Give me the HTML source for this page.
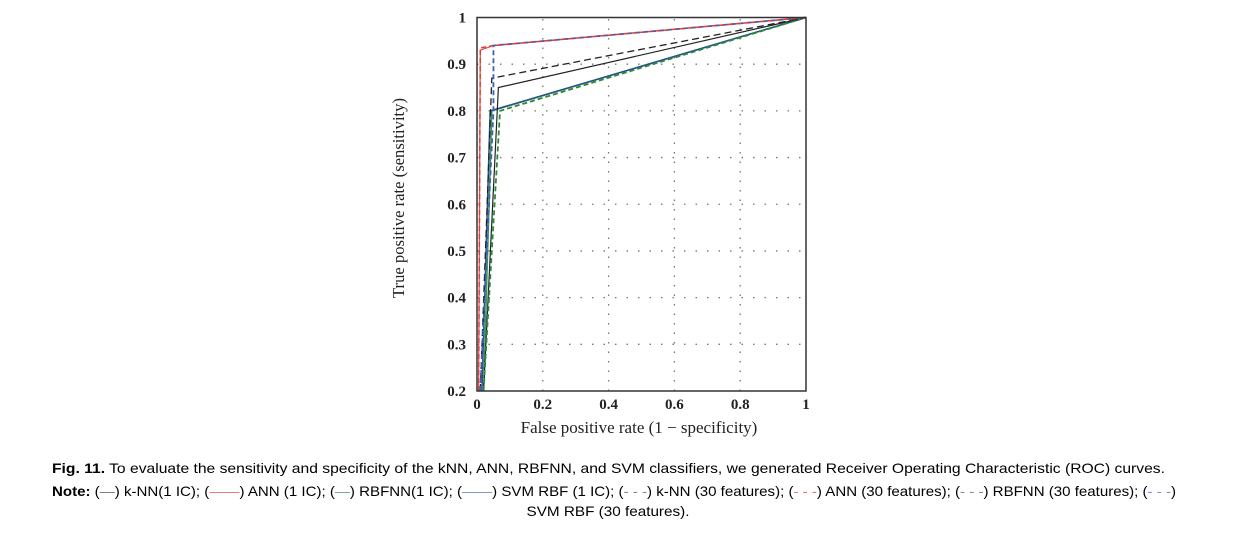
<!DOCTYPE html>
<html><head><meta charset="utf-8"><style>
html,body{margin:0;padding:0;background:#fff;width:1241px;height:550px;overflow:hidden}
svg{display:block}
</style></head><body>
<svg id="chart" width="1241" height="550" xmlns="http://www.w3.org/2000/svg">
<g id="grid"></g>
<g id="curves"></g>
<rect x="477" y="17.5" width="329" height="373.5" fill="none" stroke="#333" stroke-width="1.5"/>
<g id="ticks" font-family="Liberation Serif, serif" font-size="15" font-weight="bold" fill="#222"></g>
<text x="639" y="433" text-anchor="middle" font-family="Liberation Serif, serif" font-size="17" fill="#222">False positive rate (1 − specificity)</text>
<text transform="translate(404,198) rotate(-90)" text-anchor="middle" font-family="Liberation Serif, serif" font-size="17" fill="#222" textLength="200" lengthAdjust="spacingAndGlyphs">True positive rate (sensitivity)</text>
<g font-family="Liberation Sans, sans-serif" font-size="14" fill="#000">
<text x="52" y="473" textLength="1113" lengthAdjust="spacingAndGlyphs"><tspan font-weight="bold">Fig. 11.</tspan> To evaluate the sensitivity and specificity of the kNN, ANN, RBFNN, and SVM classifiers, we generated Receiver Operating Characteristic (ROC) curves.</text>
<text x="52" y="496" textLength="1124" lengthAdjust="spacingAndGlyphs"><tspan font-weight="bold">Note:</tspan> (<tspan fill="#777">—</tspan>) k-NN(1 IC); (<tspan fill="#e57373">——</tspan>) ANN (1 IC); (<tspan fill="#6aa88a">—</tspan>) RBFNN(1 IC); (<tspan fill="#7b8fc9">——</tspan>) SVM RBF (1 IC); (<tspan fill="#888">- - -</tspan>) k-NN (30 features); (<tspan fill="#e57373">- - -</tspan>) ANN (30 features); (<tspan fill="#888">- - -</tspan>) RBFNN (30 features); (<tspan fill="#7b8fc9">- - -</tspan>)</text>
<text x="608" y="516" text-anchor="middle" textLength="163" lengthAdjust="spacingAndGlyphs">SVM RBF (30 features).</text>
</g>
</svg>
<script>
const xTicks=[0,0.2,0.4,0.6,0.8,1];
const xTickLabels=['0','0.2','0.4','0.6','0.8','1'];
const yTicks=[0.2,0.3,0.4,0.5,0.6,0.7,0.8,0.9,1];
const yTickLabels=['0.2','0.3','0.4','0.5','0.6','0.7','0.8','0.9','1'];
const seriesNames=['knn-1ic','ann-1ic','rbfnn-1ic','svm-1ic','knn-30','ann-30','rbfnn-30','svm-30'];
const fprKnn1=[0.02,0.065,1], tprKnn1=[0.2,0.85,1];
const fprAnn1=[0.005,0.01,0.05,1], tprAnn1=[0.2,0.93,0.94,1];
const fprRbf1=[0.02,0.045,1], tprRbf1=[0.2,0.8,1];
const fprSvm1=[0.015,0.04,1], tprSvm1=[0.2,0.8,1];
const fprKnn30=[0.01,0.045,1], tprKnn30=[0.2,0.87,1];
const fprAnn30=[0.005,0.01,0.05,1], tprAnn30=[0.2,0.935,0.94,1];
const fprRbf30=[0.02,0.07,1], tprRbf30=[0.2,0.8,1];
const fprSvm30=[0.01,0.05,0.05,1], tprSvm30=[0.2,0.8,0.94,1];

const X0=477,X1=806,Y0=391,Y1=17.5;
const sx=v=>X0+(X1-X0)*v;
const sy=v=>Y0-(Y0-Y1)*(v-0.2)/0.8;
const NS='http://www.w3.org/2000/svg';
function mk(tag,attrs,parent){const e=document.createElementNS(NS,tag);for(const k in attrs)e.setAttribute(k,attrs[k]);parent.appendChild(e);return e;}
const grid=document.getElementById('grid'),ticks=document.getElementById('ticks'),curves=document.getElementById('curves');
xTicks.forEach((t,i)=>{
  if(t>0&&t<1){const l=mk('line',{x1:sx(t),x2:sx(t),y1:Y0,y2:Y1,stroke:'#777','stroke-width':1.3,'stroke-dasharray':'1.5 8'},grid);
  
  }
  const tx=mk('text',{x:sx(t),y:409,'text-anchor':'middle'},ticks);tx.textContent=xTickLabels[i];
  
  
});
yTicks.forEach((t,i)=>{
  if(t>0.2&&t<1){const l=mk('line',{x1:X0,x2:X1,y1:sy(t),y2:sy(t),stroke:'#777','stroke-width':1.3,'stroke-dasharray':'1.5 10'},grid);
  
  }
  const tx=mk('text',{x:466,y:sy(t)+5,'text-anchor':'end'},ticks);tx.textContent=yTickLabels[i];
  
  
});
const defs=[
 [fprRbf1,tprRbf1,'#3a9a5a','',1.5],
 [fprSvm1,tprSvm1,'#2c4f8a','',1.5],
 [fprKnn1,tprKnn1,'#222','',1.2],
 [fprAnn1,tprAnn1,'#e05050','',1.2],
 [fprRbf30,tprRbf30,'#2a8a3a','5 3',1.8],
 [fprKnn30,tprKnn30,'#222','7 4',1.3],
 [fprSvm30,tprSvm30,'#3b62b8','5 3',1.8],
 [fprAnn30,tprAnn30,'#e03a3a','5 3',1.5]
];
const order=['rbfnn-1ic','svm-1ic','knn-1ic','ann-1ic','rbfnn-30','knn-30','svm-30','ann-30'];
defs.forEach((d,i)=>{
  const pts=d[0].map((v,j)=>sx(v)+','+sy(d[1][j])).join(' ');
  const p=mk('polyline',{points:pts,fill:'none',stroke:d[2],'stroke-width':d[4]},curves);
  if(d[3])p.setAttribute('stroke-dasharray',d[3]);
  
  
});
</script>
</body></html>
